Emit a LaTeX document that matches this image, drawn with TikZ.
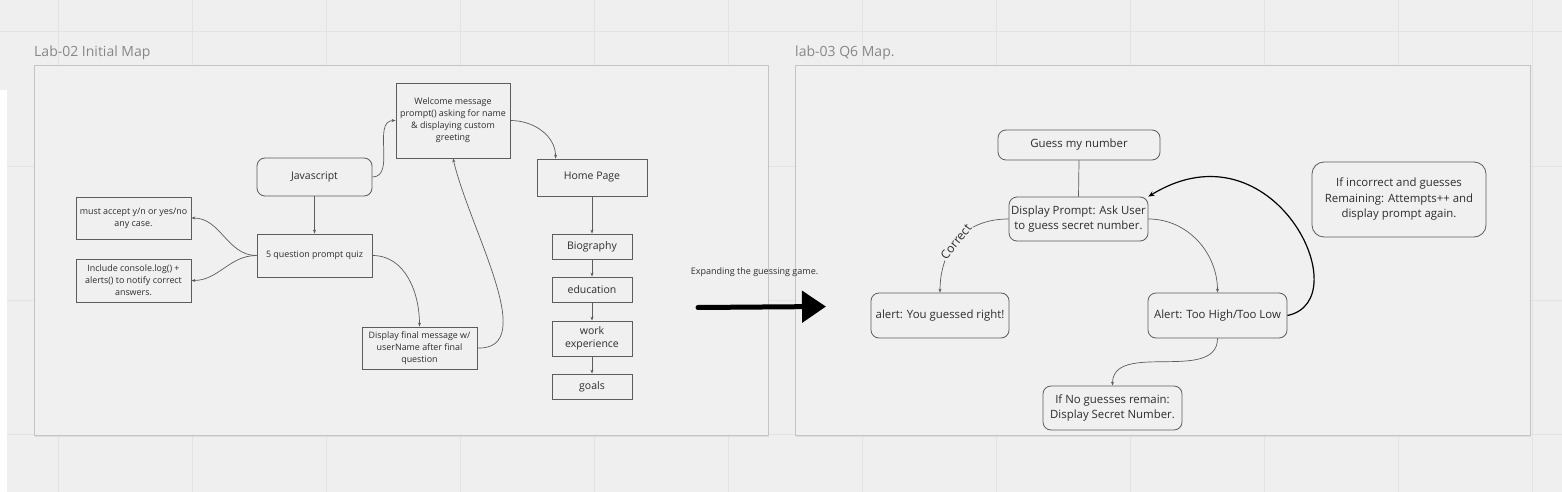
\documentclass[tikz,border=0pt]{standalone}
\usepackage{fontspec}
\setmainfont{Open Sans}
\usepackage{tikz}
\usetikzlibrary{arrows.meta,shadows}
\definecolor{canvas}{RGB}{239,239,239}
\definecolor{gridline}{RGB}{227,227,227}
\definecolor{panelfill}{RGB}{240,240,240}
\definecolor{panelline}{RGB}{196,196,196}
\definecolor{boxline}{RGB}{92,92,92}
\definecolor{ink}{RGB}{45,45,45}
\definecolor{titleink}{RGB}{135,135,135}
\tikzstyle{Sharpbox}=[draw=boxline, fill=panelfill, line width=0.8pt, align=center, text=ink, inner sep=1pt, font=\fontsize{8.9}{12}\selectfont]
\tikzstyle{Mainbox}=[Sharpbox, font=\fontsize{10.5}{13}\selectfont]
\tikzstyle{Roundbox}=[Sharpbox, rounded corners=8pt, font=\fontsize{11.4}{15.5}\selectfont]
\tikzstyle{Panel}=[draw=panelline, fill=panelfill, line width=0.8pt, drop shadow={opacity=0.15, shadow xshift=1pt, shadow yshift=-2pt}]
\tikzstyle{Title}=[anchor=base west, text=titleink, inner sep=0pt, font=\fontsize{14}{16}\selectfont]
\tikzstyle{arrow}=[draw=boxline, line width=0.7pt, -{Stealth[length=4pt, width=3pt]}]
\tikzstyle{backarrow}=[draw=black, line width=1.2pt, -{Stealth[length=6pt, width=5pt]}]
\tikzstyle{bigarrow}=[draw=black, line width=5pt, line cap=round, -{Triangle[length=24pt, width=31pt]}]
\pgfdeclarelayer{backlayer}
\pgfdeclarelayer{nodelayer}
\pgfdeclarelayer{edgelayer}
\pgfsetlayers{backlayer, nodelayer, edgelayer, main}
\begin{document}
\begin{tikzpicture}[x=1pt, y=1pt]
	\useasboundingbox (0, 0) rectangle (1562, -492);
	\begin{pgfonlayer}{backlayer}
		\fill [canvas] (0, 0) rectangle (1562, -492);
		\draw [gridline, line width=1pt, xshift=58pt, yshift=-32pt] (-58, -460) grid [step=134] (1504, 32);
		\fill [white] (0, -90) rectangle (7, -492);
		\node [style=Panel, minimum width=734, minimum height=370] (lab2panel) at (401, -250) {};
		\node [style=Panel, minimum width=735, minimum height=370] (lab3panel) at (1162.5, -250) {};
		\node [style=Title] (lab2title) at (34, -57) {Lab-02 Initial Map};
		\node [style=Title] (lab3title) at (795, -57) {lab-03 Q6 Map.};
	\end{pgfonlayer}
	\begin{pgfonlayer}{nodelayer}
		\node [style=Sharpbox, minimum width=114, minimum height=75] (welcome) at (453, -120.5) {Welcome message\\prompt() asking for name\\\& displaying custom\\greeting};
		\node [style=Mainbox, rounded corners=8pt, minimum width=115, minimum height=38] (js) at (314.5, -177) {Javascript};
		\node [style=Mainbox, minimum width=110, minimum height=37] (home) at (592, -177.5) {Home Page};
		\node [style=Sharpbox, minimum width=115, minimum height=42] (must) at (133.5, -218) {must accept y/n or yes/no\\any case.};
		\node [style=Sharpbox, minimum width=115, minimum height=43] (quiz) at (314.5, -255.5) {5 question prompt quiz};
		\node [style=Sharpbox, minimum width=115, minimum height=43] (include) at (133.5, -280.5) {Include console.log() +\\alerts() to notify correct\\answers.};
		\node [style=Sharpbox, minimum width=115, minimum height=42] (final) at (419.5, -348) {Display final message w/\\userName after final\\question};
		\node [style=Mainbox, minimum width=80, minimum height=25] (bio) at (592, -246.5) {Biography};
		\node [style=Mainbox, minimum width=80, minimum height=25] (edu) at (592, -289.5) {education};
		\node [style=Mainbox, minimum width=80, minimum height=35] (work) at (592, -338.5) {work\\experience};
		\node [style=Mainbox, minimum width=80, minimum height=25] (goals) at (592, -386.5) {goals};
		% guessing game
		\node [style=Roundbox, minimum width=162, minimum height=30] (guess) at (1079, -145) {Guess my number};
		\node [style=Roundbox, minimum width=139, minimum height=44] (prompt) at (1078.5, -219) {Display Prompt: Ask User\\to guess secret number.};
		\node [style=Roundbox, minimum width=138, minimum height=45] (right) at (940, -315.5) {alert: You guessed right!};
		\node [style=Roundbox, minimum width=139, minimum height=45] (high) at (1217.5, -315.5) {Alert: Too High/Too Low};
		\node [style=Roundbox, rounded corners=12pt, minimum width=174, minimum height=75] (again) at (1399, -199.5) {If incorrect and guesses\\Remaining: Attempts++ and\\display prompt again.};
		\node [style=Roundbox, minimum width=139, minimum height=44] (nomore) at (1112.5, -408) {If No guesses remain:\\Display Secret Number.};
	\end{pgfonlayer}
	\begin{pgfonlayer}{edgelayer}
		\draw [style=arrow] (js.east) to [out=0, in=180] (welcome.west);
		\draw [style=arrow] (welcome.east) to [out=0, in=90] ([xshift=19pt]home.north west);
		\draw [style=arrow] (js.south) to (quiz.north);
		\draw [style=arrow] (quiz.west) to [out=180, in=0] (must.east);
		\draw [style=arrow] (quiz.west) to [out=180, in=0] (include.east);
		\draw [style=arrow] (quiz.east) to [out=0, in=90] (final.north);
		\draw [style=arrow] (final.east) .. controls +(63, -2) and +(17, -72) .. (welcome.south);
		\draw [style=arrow] (home.south) to (bio.north);
		\draw [style=arrow] (bio.south) to (edu.north);
		\draw [style=arrow] (edu.south) to (work.north);
		\draw [style=arrow] (work.south) to (goals.north);

		% between the maps
		\coordinate (expandstart) at (698, -307.5);
		\coordinate (expandend) at (826, -306.5);
		\draw [style=bigarrow] (expandstart) to (expandend);
		\node [text=ink, font=\fontsize{9}{11}\selectfont] (expandlabel) at (754.5, -272) {Expanding the guessing game.};

		\draw [draw=boxline, line width=0.7pt] (guess.south) to (prompt.north);
		\draw [style=arrow] (prompt.west) .. controls +(-49, 0) and +(0, 38) .. (right.north) node [sloped, pos=0.5, fill=panelfill, inner sep=1pt, text=ink, font=\fontsize{12}{14}\selectfont] (correctlabel) {Correct};
		\draw [style=arrow] (prompt.east) to [out=0, in=90] (high.north);
		\draw [style=backarrow] (high.east) .. controls +(73, 15) and +(125, 77) .. (prompt.north east);
		\draw [style=arrow] (high.south) to [out=270, in=90] (nomore.north);
	\end{pgfonlayer}
\end{tikzpicture}
\end{document}
